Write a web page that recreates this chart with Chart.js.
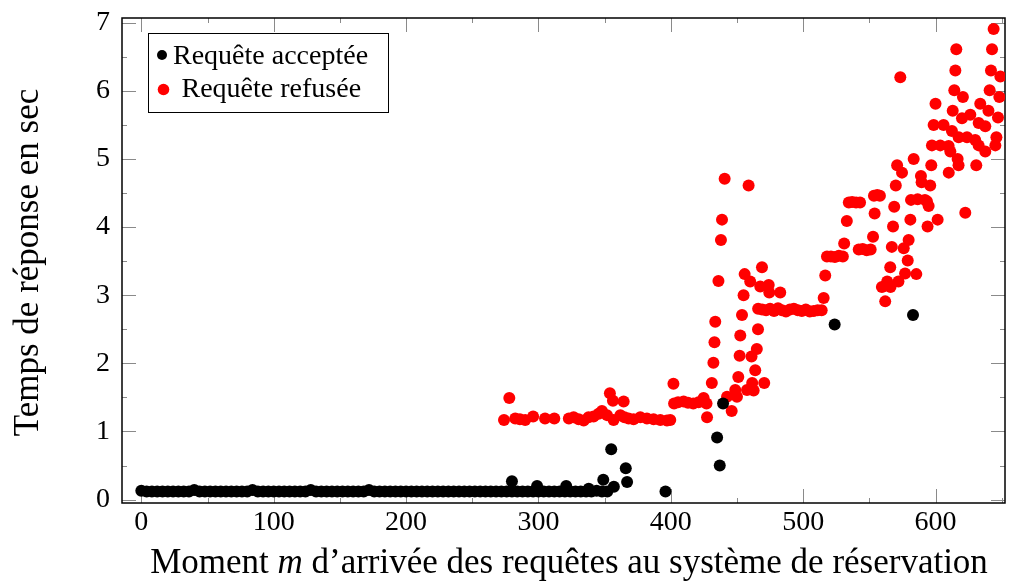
<!DOCTYPE html>
<html>
<head>
<meta charset="utf-8">
<script src="https://cdn.jsdelivr.net/npm/chart.js@4.4.1/dist/chart.umd.min.js"></script>
<style>
  html, body { margin: 0; padding: 0; background: #fff; }
</style>
</head>
<body>
<canvas id="chart" width="1011" height="582"></canvas>
<script>
// accepted requests: [moment m, response time in sec]
const accepted = [
  [0,0.13],[4,0.12],[8,0.12],[12,0.12],[16,0.12],[20,0.12],[24,0.12],[28,0.12],[32,0.12],[36,0.12],
  [40,0.14],[44,0.12],[48,0.12],[52,0.12],[56,0.12],[60,0.12],[64,0.12],[68,0.12],[72,0.12],[76,0.12],
  [80,0.12],[84,0.14],[88,0.12],[92,0.12],[96,0.12],[100,0.12],[104,0.12],[108,0.12],[112,0.12],[116,0.12],
  [120,0.12],[124,0.12],[128,0.14],[132,0.12],[136,0.12],[140,0.12],[144,0.12],[148,0.12],[152,0.12],[156,0.12],
  [160,0.12],[164,0.12],[168,0.12],[172,0.14],[176,0.12],[180,0.12],[184,0.12],[188,0.12],[192,0.12],[196,0.12],
  [200,0.12],[204,0.12],[208,0.12],[212,0.12],[216,0.12],[220,0.12],[224,0.12],[228,0.12],[232,0.12],[236,0.12],
  [240,0.12],[244,0.12],[248,0.12],[252,0.12],[256,0.12],[260,0.12],[264,0.12],[268,0.12],[272,0.12],[276,0.12],
  [280,0.12],[284,0.12],[288,0.12],[292,0.12],[296,0.12],[300,0.12],[304,0.12],[308,0.12],[312,0.12],[316,0.12],
  [320,0.12],[324,0.12],[328,0.12],[332,0.12],[336,0.12],[340,0.12],[344,0.13],[348,0.12],[352,0.12],
  [280,0.27],[299,0.20],[321,0.20],[338,0.16],[349,0.29],[355,0.74],[357,0.19],[366,0.46],[367,0.26],
  [396,0.12],[435,0.91],[437,0.50],[439.5,1.41],[523.8,2.57],[583,2.71]
];

// refused requests: [moment m, response time in sec]
const refused = [
  [274,1.17],[278,1.49],[282.5,1.19],[286,1.18],[290,1.17],[296,1.22],[305,1.19],[312,1.19],
  [323,1.19],[326.6,1.21],[330.4,1.18],[334.2,1.16],[337.9,1.21],[341.7,1.22],[345.5,1.26],[348,1.30],
  [351.8,1.24],[354,1.56],[356.3,1.45],[356.8,1.17],[361.9,1.24],[364.4,1.44],[365,1.21],[368.1,1.19],
  [371.9,1.18],[377,1.21],[382,1.19],[387,1.18],[392.1,1.17],[397.1,1.16],[399.6,1.17],
  [402,1.70],[402.5,1.41],[405.5,1.43],[409.7,1.44],[413,1.42],[417,1.41],[421,1.43],[424.8,1.49],
  [427,1.41],[427.4,1.21],[431,1.71],[432.2,2.01],[433,2.31],[433.6,2.61],[436,3.21],[437.9,3.81],
  [438.7,4.11],[440.7,4.71],[442.5,1.51],[446,1.30],[448.7,1.61],[450,1.51],[451,1.80],[452,2.11],
  [452.5,2.41],[453.8,2.71],[455,3.00],[455.8,3.31],[457.6,1.61],[458.8,4.61],[460,3.20],[461,2.10],
  [461.5,1.71],[462.6,1.60],[463.8,1.90],[465,2.21],[465.9,2.50],[466,2.80],[467.6,3.13],[468.9,3.41],
  [469,2.79],[470.6,1.71],[472,2.78],[474,3.15],[474.4,3.04],[475,2.80],[478,2.77],[481,2.81],
  [482.7,3.04],[484,2.78],[487,2.76],[490,2.79],[493,2.80],[496,2.78],[499,2.77],[502,2.79],
  [505,2.76],[508,2.77],[511,2.78],[514,2.78],[515.5,2.96],[516.7,3.29],[518,3.57],[521,3.57],
  [524,3.56],[527,3.58],[530,3.57],[531,3.76],[533,4.09],[534.5,4.36],[537,4.37],[540,4.36],
  [542,3.67],[543,4.36],[545,3.68],[548,3.66],[551,3.67],[552.8,3.86],[553.5,4.46],[554,4.20],
  [556,4.47],[558,4.46],[559.5,3.12],[562,2.91],[563.5,3.20],[566,3.12],[565.8,3.41],[567,3.71],
  [567.9,4.01],[568.8,4.30],[570,4.61],[571,4.91],[572,3.20],[573.4,6.20],[574.7,4.80],[576,3.69],
  [577,3.32],[579,3.51],[579.7,3.81],[581,4.11],[581.5,4.40],[583.5,5.00],[585.5,3.31],[586.5,4.41],
  [589,4.75],[589.5,4.66],[592,4.40],[593.5,4.38],[594,4.01],[594.8,4.31],[596,4.61],[596.8,4.91],
  [597.3,5.20],[598.6,5.50],[600,5.81],[601.6,4.11],[603.6,5.20],[606.1,5.50],[609.9,5.19],[610,4.80],
  [611.2,5.11],[612.4,5.41],[613,5.71],[614.2,6.01],[615,6.30],[615.7,6.61],[616.7,5.00],[617.4,4.91],
  [617.5,5.32],[620,5.60],[620.7,5.91],[622.5,4.21],[623.8,5.32],[626.3,5.65],[630,5.28],[630.8,4.91],
  [632.6,5.53],[632.6,5.20],[633.8,5.81],[637.6,5.48],[637.6,5.11],[640,5.71],[640.9,6.01],[641.9,6.30],
  [642.7,6.61],[643.9,6.91],[645.2,5.20],[646,5.32],[647.2,5.61],[648.2,5.91],[649,6.21]
];

const seriesNames = ["Requête acceptée", "Requête refusée"];
const xTicks = [0, 100, 200, 300, 400, 500, 600];
const xMinor = [50, 150, 250, 350, 450, 550, 650];
const yTicks = [0, 1, 2, 3, 4, 5, 6, 7];
const yMinor = [0.5, 1.5, 2.5, 3.5, 4.5, 5.5, 6.5];
const xTitle = ["Moment ", "m", " d’arrivée des requêtes au système de réservation"];
const yTitle = "Temps de réponse en sec";

const SERIF = '"Liberation Serif", "DejaVu Serif", serif';
const toPoints = rows => rows.map(r => ({ x: r[0], y: r[1] }));

// frame, inward ticks, legend and axis titles
const decor = {
  id: "decor",
  beforeDatasetsDraw(chart) {
    const { ctx, chartArea: a, scales: { x, y } } = chart;
    ctx.save();
    ctx.strokeStyle = "#8a8a8a";
    ctx.lineWidth = 1;
    ctx.beginPath();
    const xt = (vals, len) => vals.forEach(v => {
      const px = Math.round(x.getPixelForValue(v)) + 0.5;
      ctx.moveTo(px, a.bottom); ctx.lineTo(px, a.bottom - len);
      ctx.moveTo(px, a.top); ctx.lineTo(px, a.top + len);
    });
    const yt = (vals, len) => vals.forEach(v => {
      const py = Math.round(y.getPixelForValue(v)) + 0.5;
      ctx.moveTo(a.left, py); ctx.lineTo(a.left + len, py);
      ctx.moveTo(a.right, py); ctx.lineTo(a.right - len, py);
    });
    xt(xTicks, 14); xt(xMinor, 5);
    yt(yTicks, 14); yt(yMinor, 5);
    ctx.stroke();
    ctx.strokeStyle = "#000";
    ctx.lineWidth = 1.5;
    ctx.strokeRect(a.left, a.top, a.right - a.left, a.bottom - a.top);
    ctx.restore();
  },
  afterDraw(chart) {
    const ctx = chart.ctx;
    ctx.save();
    // legend
    ctx.fillStyle = "#fff";
    ctx.fillRect(148.5, 33.5, 240, 79);
    ctx.strokeStyle = "#000";
    ctx.lineWidth = 1;
    ctx.strokeRect(148.5, 33.5, 240, 79);
    ctx.fillStyle = "#000";
    ctx.beginPath(); ctx.arc(162, 55, 5, 0, Math.PI * 2); ctx.fill();
    ctx.fillStyle = "#ff0000";
    ctx.beginPath(); ctx.arc(163.5, 89.5, 5.8, 0, Math.PI * 2); ctx.fill();
    ctx.fillStyle = "#000";
    ctx.font = "28px " + SERIF;
    ctx.textBaseline = "alphabetic";
    ctx.textAlign = "left";
    ctx.fillText(seriesNames[0], 173, 63.5);
    ctx.fillText(seriesNames[1], 181.5, 97);

    // x title with italic m
    const fonts = ["35px " + SERIF, "italic 35px " + SERIF, "35px " + SERIF];
    const widths = xTitle.map((s, i) => { ctx.font = fonts[i]; return ctx.measureText(s).width; });
    let tx = 569 - widths.reduce((p, q) => p + q, 0) / 2;
    xTitle.forEach((s, i) => { ctx.font = fonts[i]; ctx.fillText(s, tx, 573); tx += widths[i]; });

    // y title
    ctx.translate(38, 262.5);
    ctx.rotate(-Math.PI / 2);
    ctx.textAlign = "center";
    ctx.font = "35px " + SERIF;
    ctx.fillText(yTitle, 0, 0);
    ctx.restore();
  }
};

const noEdgePadding = s => {
  s.paddingTop = 0; s.paddingBottom = 0; s.paddingLeft = 0; s.paddingRight = 0;
};

new Chart(document.getElementById("chart"), {
  type: "scatter",
  data: {
    datasets: [
      {
        label: seriesNames[0],
        data: toPoints(accepted),
        backgroundColor: "#000",
        borderWidth: 0,
        pointRadius: 6,
        pointHoverRadius: 6
      },
      {
        label: seriesNames[1],
        data: toPoints(refused),
        backgroundColor: "#ff0000",
        borderWidth: 0,
        pointRadius: 6,
        pointHoverRadius: 6
      }
    ]
  },
  options: {
    responsive: false,
    animation: false,
    devicePixelRatio: 1,
    layout: { padding: { left: 0, right: 6, top: 18, bottom: 0 } },
    plugins: { legend: { display: false }, tooltip: { enabled: false } },
    scales: {
      x: {
        type: "linear",
        min: -14.6,
        max: 652.5,
        grid: { display: false, drawTicks: false },
        border: { display: false },
        afterBuildTicks: s => { s.ticks = xTicks.map(v => ({ value: v })); },
        afterFit: s => { s.height = 79; noEdgePadding(s); },
        ticks: { color: "#000", padding: 3, font: { family: SERIF, size: 28 } }
      },
      y: {
        type: "linear",
        min: -0.05,
        max: 7.07,
        grid: { display: false, drawTicks: false },
        border: { display: false },
        afterBuildTicks: s => { s.ticks = yTicks.map(v => ({ value: v })); },
        afterFit: s => { s.width = 122; noEdgePadding(s); },
        ticks: { color: "#000", padding: 12, font: { family: SERIF, size: 28 } }
      }
    }
  },
  plugins: [decor]
});
</script>
</body>
</html>
